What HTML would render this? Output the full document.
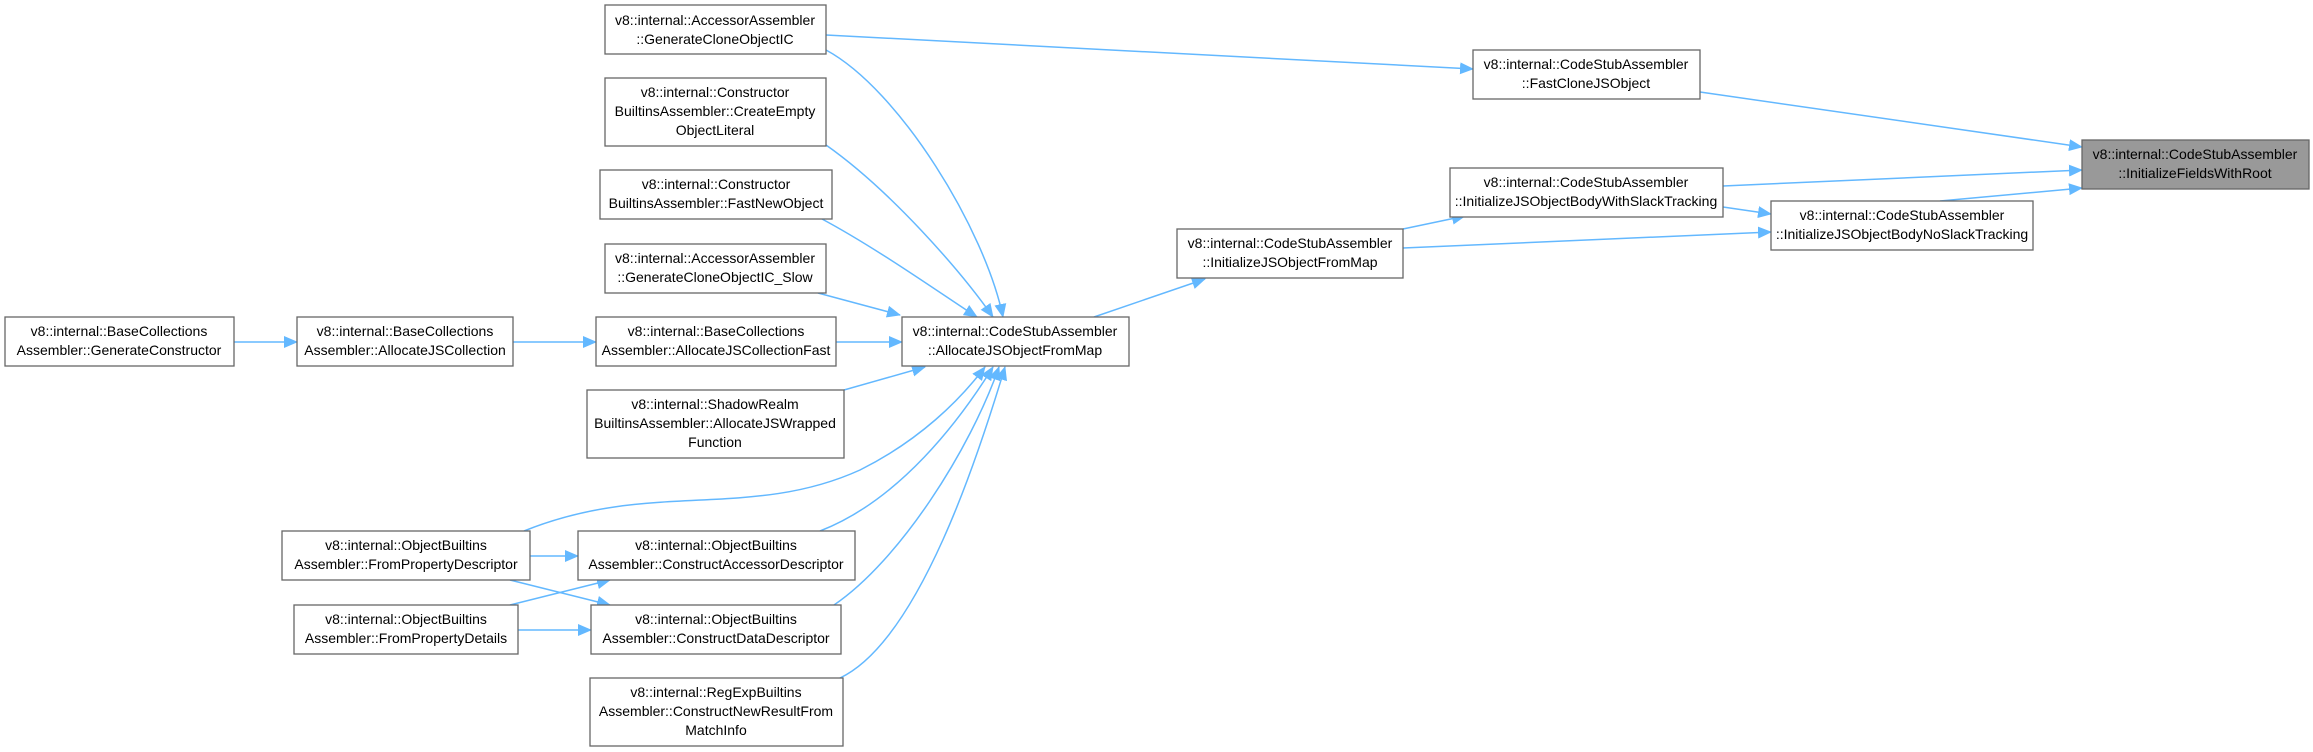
<!DOCTYPE html>
<html><head><meta charset="utf-8"><style>
html,body{margin:0;padding:0;background:#fff;}
svg{display:block}
text{font-family:"Liberation Sans",sans-serif;font-size:14px;fill:#000}
</style></head><body>
<svg width="2313" height="752" viewBox="0 0 2313 752" xmlns="http://www.w3.org/2000/svg">
<defs>
<marker id="a" markerWidth="14" markerHeight="12" refX="13" refY="6" orient="auto" markerUnits="userSpaceOnUse">
<path d="M0,0 L14,6 L0,12 Z" fill="#63b8ff"/>
</marker>
</defs>
<g fill="none" stroke="#63b8ff" stroke-width="1.5" marker-end="url(#a)">
<path d="M826,35 L1473,69"/>
<path d="M826,50 C900,90 985,230 1003,317"/>
<path d="M826,145 C890,190 960,270 993,317"/>
<path d="M822,219 C880,250 950,300 977,317"/>
<path d="M818,293 L900,315"/>
<path d="M836,342 L902,342"/>
<path d="M513,342 L596,342"/>
<path d="M234,342 L297,342"/>
<path d="M844,390 L925,367"/>
<path d="M524,531 C650,480 750,520 860,470 C920,440 960,400 985,367"/>
<path d="M820,531 C900,500 960,420 993,367"/>
<path d="M834,605 C900,560 970,450 999,367"/>
<path d="M840,678 C920,640 980,450 1005,367"/>
<path d="M530,556 L578,556"/>
<path d="M510,580 L610,605"/>
<path d="M510,605 L610,580"/>
<path d="M518,630 L591,630"/>
<path d="M1094,317 L1205,279"/>
<path d="M1403,229 L1465,216"/>
<path d="M1403,248 L1771,232"/>
<path d="M1723,207 L1771,214"/>
<path d="M1723,186 L2082,170"/>
<path d="M1940,201 L2082,188"/>
<path d="M1700,92 L2082,147"/>
</g>
<g fill="#fff" stroke="#666" stroke-width="1.3">
<rect x="605" y="5" width="221" height="49"/>
<rect x="605" y="78" width="221" height="68"/>
<rect x="600" y="170" width="232" height="49"/>
<rect x="605" y="244" width="221" height="49"/>
<rect x="5" y="317" width="229" height="49"/>
<rect x="297" y="317" width="216" height="49"/>
<rect x="596" y="317" width="240" height="49"/>
<rect x="902" y="317" width="227" height="49"/>
<rect x="587" y="390" width="257" height="68"/>
<rect x="282" y="531" width="248" height="49"/>
<rect x="578" y="531" width="277" height="49"/>
<rect x="294" y="605" width="224" height="49"/>
<rect x="591" y="605" width="250" height="49"/>
<rect x="590" y="678" width="253" height="68"/>
<rect x="1473" y="50" width="227" height="49"/>
<rect x="1450" y="168" width="273" height="49"/>
<rect x="1771" y="201" width="262" height="49"/>
<rect x="1177" y="229" width="226" height="49"/>
<rect x="2082" y="140" width="227" height="49" fill="#999"/>
</g>
<g text-anchor="middle">
<text x="715" y="25">v8::internal::AccessorAssembler</text><text x="715" y="44">::GenerateCloneObjectIC</text>
<text x="715" y="97">v8::internal::Constructor</text><text x="715" y="116">BuiltinsAssembler::CreateEmpty</text><text x="715" y="135">ObjectLiteral</text>
<text x="716" y="189">v8::internal::Constructor</text><text x="716" y="208">BuiltinsAssembler::FastNewObject</text>
<text x="715" y="263">v8::internal::AccessorAssembler</text><text x="715" y="282">::GenerateCloneObjectIC_Slow</text>
<text x="119" y="336">v8::internal::BaseCollections</text><text x="119" y="355">Assembler::GenerateConstructor</text>
<text x="405" y="336">v8::internal::BaseCollections</text><text x="405" y="355">Assembler::AllocateJSCollection</text>
<text x="716" y="336">v8::internal::BaseCollections</text><text x="716" y="355">Assembler::AllocateJSCollectionFast</text>
<text x="1015" y="336">v8::internal::CodeStubAssembler</text><text x="1015" y="355">::AllocateJSObjectFromMap</text>
<text x="715" y="409">v8::internal::ShadowRealm</text><text x="715" y="428">BuiltinsAssembler::AllocateJSWrapped</text><text x="715" y="447">Function</text>
<text x="406" y="550">v8::internal::ObjectBuiltins</text><text x="406" y="569">Assembler::FromPropertyDescriptor</text>
<text x="716" y="550">v8::internal::ObjectBuiltins</text><text x="716" y="569">Assembler::ConstructAccessorDescriptor</text>
<text x="406" y="624">v8::internal::ObjectBuiltins</text><text x="406" y="643">Assembler::FromPropertyDetails</text>
<text x="716" y="624">v8::internal::ObjectBuiltins</text><text x="716" y="643">Assembler::ConstructDataDescriptor</text>
<text x="716" y="697">v8::internal::RegExpBuiltins</text><text x="716" y="716">Assembler::ConstructNewResultFrom</text><text x="716" y="735">MatchInfo</text>
<text x="1586" y="69">v8::internal::CodeStubAssembler</text><text x="1586" y="88">::FastCloneJSObject</text>
<text x="1586" y="187">v8::internal::CodeStubAssembler</text><text x="1586" y="206">::InitializeJSObjectBodyWithSlackTracking</text>
<text x="1902" y="220">v8::internal::CodeStubAssembler</text><text x="1902" y="239">::InitializeJSObjectBodyNoSlackTracking</text>
<text x="1290" y="248">v8::internal::CodeStubAssembler</text><text x="1290" y="267">::InitializeJSObjectFromMap</text>
<text x="2195" y="159">v8::internal::CodeStubAssembler</text><text x="2195" y="178">::InitializeFieldsWithRoot</text>
</g>
</svg>
</body></html>
